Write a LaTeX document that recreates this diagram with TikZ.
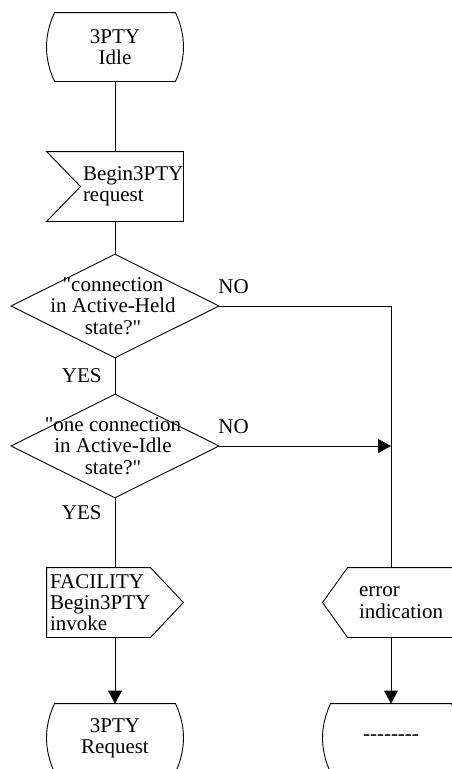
\documentclass[tikz,border=0pt]{standalone}
\usepackage{fontspec}
\setmainfont{Liberation Serif}[Ligatures=TeXOff]
\usetikzlibrary{arrows.meta, shapes.geometric}
\def\bulge{8pt}

\begin{document}
\begin{tikzpicture}[x=1pt,y=1pt,line width=0.9pt,>={Triangle[length=13pt,width=14pt]},font=\fontsize{21}{21.3}\selectfont]
    \tikzstyle{state}=[rectangle, minimum width=136pt, minimum height=68pt, inner sep=0pt, align=center]
    \tikzstyle{sigbox}=[rectangle, minimum width=136pt, minimum height=69pt, inner sep=0pt]
    \tikzstyle{sigtext}=[text width=100pt, align=left, inner sep=0pt]
    \tikzstyle{decision}=[diamond, draw, minimum width=208pt, minimum height=104pt, inner sep=0pt]
    \tikzstyle{annot}=[inner sep=0pt]

    \useasboundingbox (0,0) rectangle (452,-769);

    % Draw the left column
    \node[state] (idle) at (115,-47) {3PTY\\Idle};
    \node[sigbox, label={[sigtext, xshift=18pt]center:{Begin3PTY\\request}}] (req) at (115,-186.5) {};
    \node[decision, label={[align=center, xshift=-2pt]center:{"connection\\in Active-Held\\state?"}}] (d1) at (115,-306) {};
    \node[decision, label={[align=center, xshift=-2pt]center:{"one connection\\in Active-Idle\\state?"}}] (d2) at (115,-446) {};
    \node[sigbox, label={[sigtext, xshift=-15pt]center:{FACILITY\\Begin3PTY\\invoke}}] (fac) at (115,-602.5) {};
    \node[state] (rq) at (115,-738) {3PTY\\Request};

    % Draw the right column
    \node[sigbox, label={[sigtext, xshift=18pt]center:{error\\indication}}] (err) at (391,-602.5) {};
    \node[state] (dash) at (391,-738) {--------};

    % answers
    \node[annot, anchor=base west] (no1) at (218,-293) {NO};
    \node[annot, anchor=base west] (no2) at (218,-433) {NO};
    \node[annot, anchor=base east] (yes1) at (102,-382) {YES};
    \node[annot, anchor=base east] (yes2) at (102,-519) {YES};

    % state outlines
    \foreach \s in {idle,rq,dash}
        \draw ([xshift=\bulge]\s.north west) -- ([xshift=-\bulge]\s.north east)
            .. controls ([xshift=2.7pt,yshift=-22.7pt]\s.north east) and ([xshift=2.7pt,yshift=22.7pt]\s.south east) .. ([xshift=-\bulge]\s.south east)
            -- ([xshift=\bulge]\s.south west)
            .. controls ([xshift=-2.7pt,yshift=22.7pt]\s.south west) and ([xshift=-2.7pt,yshift=-22.7pt]\s.north west) .. cycle;

    % signal outlines
    \draw (req.north west) -- (req.north east) -- (req.south east) -- (req.south west) -- ([xshift=34pt]req.west) -- cycle;
    \draw (fac.north west) -- ([xshift=-33pt]fac.north east) -- (fac.east) -- ([xshift=-33pt]fac.south east) -- (fac.south west) -- cycle;
    \draw ([xshift=25pt]err.north west) -- (err.north east) -- (err.south east) -- ([xshift=25pt]err.south west) -- (err.west) -- cycle;

    % Draw the flow lines
    \draw (idle.south) -- (req.north);
    \draw (req.south) -- (d1.north);
    \draw (d1.south) -- (d2.north);
    \draw (d2.south) -- (fac.north);
    \draw[->] (fac.south) -- (rq.north);
    \draw (d1.east) -| (err.north);
    \draw[->] (d2.east) -- (d2.east -| err.north);
    \draw[->] (err.south) -- (dash.north);
\end{tikzpicture}
\end{document}
